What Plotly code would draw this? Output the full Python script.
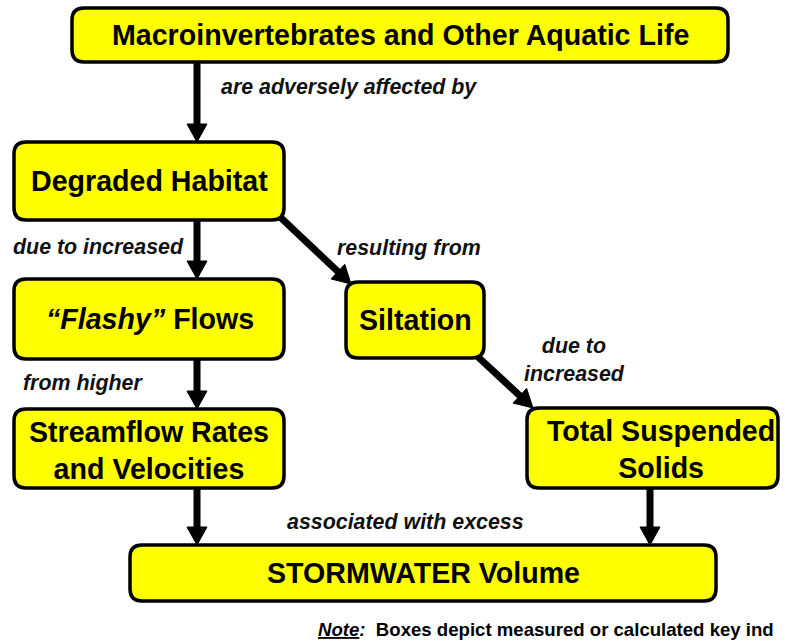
import plotly.graph_objects as go

# ---- content ----
node_labels = [
    "Macroinvertebrates and Other Aquatic Life",
    "Degraded Habitat",
    "<i>\u201cFlashy\u201d</i> Flows",
    "Siltation",
    "Streamflow Rates<br>and Velocities",
    "Total Suspended<br>Solids",
    "STORMWATER Volume",
]
edge_labels = [
    "are adversely affected by",
    "due to increased",
    "resulting from",
    "due to<br>increased",
    "from higher",
    "associated with excess",
]
note_label = "<i><u>Note</u>:</i>&nbsp; Boxes depict measured or calculated key ind"

# ---- layout geometry (pixels, y downward) ----
node_boxes = [
    (72, 8, 728, 62),
    (14, 142, 284, 220),
    (14, 279, 284, 359),
    (346, 282, 484, 358),
    (14, 409, 284, 488),
    (527, 408, 778, 488),
    (130, 545, 716, 601),
]
node_centers = [(400, 35), (149, 181), (150, 319), (415, 320), (149, 450), (661, 449), (423, 573)]

edges = [  # (x0, y0, x1_tip, y1_tip)
    (197, 62, 197, 142),
    (197, 220, 197, 279),
    (197, 359, 197, 409),
    (197, 488, 197, 545),
    (650, 488, 650, 545),
    (279, 216, 351, 284),
    (477, 356, 533, 408),
]
edge_label_pos = [  # (x, y, xanchor)
    (219, 87, "left"),
    (11, 247, "left"),
    (335, 248, "left"),
    (574, 360, "center"),
    (21, 383, "left"),
    (285, 522, "left"),
]

FONT = "Liberation Sans, Arial, sans-serif"
W, H = 785, 640


def rrect(x0, y0, x1, y1, r):
    return (f"M {x0+r},{y0} L {x1-r},{y0} Q {x1},{y0} {x1},{y0+r} "
            f"L {x1},{y1-r} Q {x1},{y1} {x1-r},{y1} L {x0+r},{y1} "
            f"Q {x0},{y1} {x0},{y1-r} L {x0},{y0+r} Q {x0},{y0} {x0+r},{y0} Z")


shapes = []
annotations = []

# arrows
head_len, head_half = 18, 10
for (x0, y0, x1, y1) in edges:
    dx, dy = x1 - x0, y1 - y0
    L = (dx * dx + dy * dy) ** 0.5
    ux, uy = dx / L, dy / L
    bx, by = x1 - ux * head_len, y1 - uy * head_len
    px, py = -uy, ux
    shapes.append(dict(type="line", xref="x", yref="y", x0=x0, y0=y0, x1=bx + ux * 2, y1=by + uy * 2,
                       line=dict(color="black", width=7), layer="below"))
    p = (f"M {x1},{y1} L {bx + px*head_half},{by + py*head_half} "
         f"L {bx - px*head_half},{by - py*head_half} Z")
    shapes.append(dict(type="path", xref="x", yref="y", path=p, fillcolor="black",
                       line=dict(color="black", width=1), layer="below"))

# boxes
for (x0, y0, x1, y1) in node_boxes:
    shapes.append(dict(type="path", xref="x", yref="y", path=rrect(x0, y0, x1, y1, 12),
                       fillcolor="#FFFF00", line=dict(color="black", width=3.5), layer="above"))

for txt, (cx, cy) in zip(node_labels, node_centers):
    annotations.append(dict(x=cx, y=cy, xref="x", yref="y", text=f"<b>{txt}</b>", showarrow=False,
                            font=dict(family=FONT, size=28.6, color="black"),
                            xanchor="center", yanchor="middle", align="center"))

for txt, (x, y, xa) in zip(edge_labels, edge_label_pos):
    annotations.append(dict(x=x, y=y, xref="x", yref="y", text=f"<b><i>{txt}</i></b>", showarrow=False,
                            font=dict(family=FONT, size=21.4, color="#111111"),
                            xanchor=xa, yanchor="middle", align="center"))

annotations.append(dict(x=316, y=629, xref="x", yref="y", text=f"<b>{note_label}</b>", showarrow=False,
                        font=dict(family=FONT, size=18.6, color="black"),
                        xanchor="left", yanchor="middle", align="left"))

fig = go.Figure()
fig.update_layout(
    width=W, height=H, autosize=False,
    margin=dict(l=0, r=0, t=0, b=0, pad=0),
    paper_bgcolor="white", plot_bgcolor="white",
    xaxis=dict(range=[0, W], visible=False, fixedrange=True),
    yaxis=dict(range=[H, 0], visible=False, fixedrange=True),
    shapes=shapes, annotations=annotations, showlegend=False,
)
fig.write_html("out.html", config={"displayModeBar": False},
               post_script="document.body.style.margin='0';document.body.style.overflow='hidden';")
